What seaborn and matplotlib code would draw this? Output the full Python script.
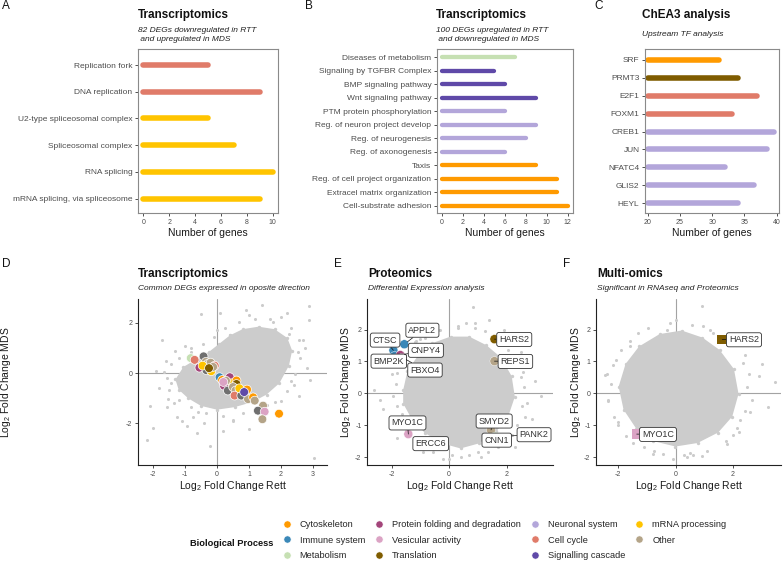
import numpy as np
import pandas as pd
import matplotlib
matplotlib.use("Agg")
import matplotlib.pyplot as plt
from matplotlib.lines import Line2D
import seaborn as sns

sns.set_theme(style="ticks")
plt.rcParams["font.family"] = ["Liberation Sans", "DejaVu Sans"]
plt.rcParams["mathtext.fontset"] = "custom"
plt.rcParams["mathtext.rm"] = "Liberation Sans"
plt.rcParams["axes.unicode_minus"] = False

# colours of the biological processes
PALETTE = {
    "Cytoskeleton": "#FF9A00",
    "Immune system": "#3B88B8",
    "Metabolism": "#C6E0B3",
    "Protein folding and degradation": "#A3457A",
    "Vesicular activity": "#DBA3C4",
    "Translation": "#7F5C00",
    "Neuronal system": "#B3A6DA",
    "Cell cycle": "#E07B69",
    "Signalling cascade": "#5F49A8",
    "mRNA processing": "#FFC400",
    "Other": "#B4A488",
    "Unassigned": "#6F6F6F",
}
GREY = "#CCCCCC"

# ---- panel A
a_terms = ["Replication fork", "DNA replication", "U2-type spliceosomal complex",
           "Spliceosomal complex", "RNA splicing", "mRNA splicing, via spliceosome"]
a_genes = [5, 9, 5, 7, 10, 9]
a_process = ["Cell cycle", "Cell cycle", "mRNA processing", "mRNA processing",
             "mRNA processing", "mRNA processing"]

# ---- panel B
b_terms = ["Diseases of metabolism", "Signaling by TGFBR Complex", "BMP signaling pathway",
           "Wnt signaling pathway", "PTM protein phosphorylation", "Reg. of neuron project develop",
           "Reg. of neurogenesis", "Reg. of axonogenesis", "Taxis",
           "Reg. of cell project organization", "Extracel matrix organization",
           "Cell-substrate adhesion"]
b_genes = [7, 5, 6, 9, 6, 9, 8, 6, 9, 11, 11, 12]
b_process = ["Metabolism", "Signalling cascade", "Signalling cascade", "Signalling cascade",
             "Neuronal system", "Neuronal system", "Neuronal system", "Neuronal system",
             "Cytoskeleton", "Cytoskeleton", "Cytoskeleton", "Cytoskeleton"]

# ---- panel C
c_tfs = ["SRF", "PRMT3", "E2F1", "FOXM1", "CREB1", "JUN", "NFATC4", "GLIS2", "HEYL"]
c_genes = [31, 34, 37, 33, 39.5, 38.5, 32, 36.5, 34]
c_process = ["Cytoskeleton", "Translation", "Cell cycle", "Cell cycle", "Neuronal system",
             "Neuronal system", "Neuronal system", "Neuronal system", "Neuronal system"]

# ---- panel D (log2FC Rett vs MDS); dense cloud outline + scattered genes
d_core_x = [-1.3, -1.05, -0.65, -0.25, 0.05, 0.4, 0.8, 1.3, 1.8, 2.2, 2.35, 2.25, 1.95,
            1.55, 1.1, 0.55, 0.0, -0.5, -0.9, -1.2]
d_core_y = [-0.25, 0.25, 0.55, 0.85, 1.15, 1.5, 1.75, 1.85, 1.75, 1.4, 0.9, 0.3, -0.4,
            -0.85, -1.15, -1.35, -1.45, -1.3, -1.0, -0.65]
d_bg_x = [-1.55, -1.45, -1.2, -0.8, -0.45, -0.1, 0.25, 0.7, 1.2, 1.75, 2.3, 2.55, 2.6, 2.45,
          2.2, 1.8, 1.35, 0.8, 0.2, -0.35, -0.8, -1.2, -1.5, -1.65, 0.0, 1.0, 2.0, 2.75, 2.4,
          1.55, 0.5, -0.6, -1.35, -1.0,
          -0.5, -1.71, -1.99, -2.2, -1.52, -1.26, -0.95, -0.63, -0.22, 2.88, 2.88, 2.26,
          1.66, 2.54, 1.99, 2.91, 2.57, 3.03, -1.6, -1.45, -1.8, -1.1, -0.4, 0.2, 0.5, -0.8,
          -1.3, 0.1, 0.9, 1.4, 2.2, 2.7, 2.8, 2.3, 2.0, 1.0, -1.9, -2.1, 0.4, -1.55, -0.75]
d_bg_y = [-0.2, 0.35, 0.6, 0.85, 1.15, 1.45, 1.8, 2.05, 2.15, 2.05, 1.8, 1.3, 0.6, -0.05,
          -0.7, -1.15, -1.4, -1.6, -1.7, -1.6, -1.35, -1.05, -0.65, 0.05, 1.7, 2.3, 2.25, 1.0,
          -0.45, -1.25, -1.85, -1.55, -1.2, 1.1,
          2.34, 1.31, -2.16, -2.66, -1.02, -1.76, -2.09, -2.36, -2.89, 2.67, 2.13, 1.57,
          2.17, 0.84, 0.57, -0.29, -0.89, -3.36, 0.5, -0.4, -0.6, -1.9, -2.0, -2.3, -1.9, 1.0,
          0.9, 2.4, 2.5, 2.7, 2.4, 1.3, 0.2, -0.3, -1.1, -2.2, 0.1, -1.3, 1.5, -1.35, -1.75]
d_hl_x = [-0.82, -0.70, -0.42, -0.55, -0.35, -0.28, -0.20, -0.33, -0.18, -0.07, -0.12, -0.45,
          -0.25, 0.08, 0.16, 0.34, 0.40, 0.31, 0.45, 0.61, 0.61, 0.22, 0.34, 0.50, 0.58, 0.55,
          0.94, 0.76, 0.97, 1.13, 1.18, 1.44, 1.28, 1.49, 1.42, 1.94, 0.28, 0.20, 0.70, 0.85]
d_hl_y = [0.60, 0.53, 0.67, 0.22, 0.45, 0.38, 0.42, 0.12, 0.08, 0.30, 0.25, 0.30, 0.20,
          -0.16, -0.27, -0.27, -0.16, -0.43, -0.40, -0.29, -0.43, -0.50, -0.69, -0.55, -0.69,
          -0.89, -0.65, -0.89, -1.03, -0.96, -1.09, -1.29, -1.49, -1.53, -1.83, -1.61, -0.30,
          -0.35, -0.60, -0.75]
d_hl_process = ["Metabolism", "Cell cycle", "Unassigned", "Protein folding and degradation",
                "Other", "Other", "Other", "Unassigned", "mRNA processing", "Cell cycle", "Other",
                "mRNA processing", "Translation", "Immune system", "Cytoskeleton",
                "Vesicular activity", "Protein folding and degradation", "Other",
                "mRNA processing", "Cytoskeleton", "Translation", "Protein folding and degradation",
                "Unassigned", "Other", "Other", "Cell cycle", "Cytoskeleton", "Unassigned", "Other",
                "Cytoskeleton", "Other", "Other", "Unassigned", "Vesicular activity", "Other",
                "Cytoskeleton", "Other", "Vesicular activity", "mRNA processing",
                "Signalling cascade"]

# ---- panel E (proteomics)
e_core_x = [-1.6, -1.45, -1.08, -0.6, 0.05, 0.7, 1.3, 1.8, 2.18, 2.29, 2.07, 1.65, 1.05, 0.4,
            -0.25, -0.85, -1.33, -1.6]
e_core_y = [0.1, 0.7, 1.19, 1.57, 1.78, 1.78, 1.51, 1.13, 0.54, -0.11, -0.7, -1.19, -1.57,
            -1.73, -1.57, -1.24, -0.76, -0.32]
e_bg_x = [-1.85, -1.7, -1.8, -1.6, -1.3, -0.85, -0.3, 0.3, 0.9, 1.55, 2.05, 2.45, 2.6, 2.55,
          2.35, 1.95, 1.35, 0.7, 0.1, -0.55, -1.05, -1.5, -1.95, -1.15, 2.3, 2.65, 1.7, -0.2,
          -1.8, 0.6, 1.25, 2.5, -1.4, -0.8, 0.4, 1.0, 2.0, -0.55, -1.65, 2.2,
          0.85, 2.59, -2.6, -2.3, -2.0, -1.9, 2.7, 3.0, 2.9, 2.5, 2.8, 0.3, -0.4, 1.1, -1.2,
          0.9, 3.2, -2.4, -1.8, 2.3, 0.0, -0.9, 1.9, -1.0, 1.4]
e_bg_y = [0.3, 0.9, -0.4, -0.9, 1.45, 1.75, 2.0, 2.05, 2.05, 1.8, 1.35, 0.85, 0.2, -0.4,
          -1.0, -1.5, -1.85, -1.95, -1.95, -1.85, -1.5, -1.15, -0.1, 1.65, 1.1, -0.75, -1.7,
          -2.05, 0.65, 2.2, 1.95, 0.5, -1.35, -1.65, -2.0, -1.85, 1.6, 1.95, -0.65, -1.3,
          2.71, 0.66, 0.1, -0.5, 0.6, -1.0, -0.3, 0.4, -0.8, 1.3, 1.0, 2.1, 2.0, -2.0, 1.6,
          2.2, -0.1, -0.2, -1.4, -1.7, -2.05, -1.85, 2.0, 1.7, 2.3]
e_hl_gene = ["CTSC", "BMP2K", "APPL2", "CNPY4", "FBXO4", "HARS2", "REPS1", "MYO1C", "SMYD2",
             "PANK2", "CNN1"]
e_hl_x = [-1.94, -1.90, -1.56, -1.70, -1.62, 1.58, 1.58, -1.42, 1.46, 1.60, 1.49]
e_hl_y = [1.35, 1.17, 1.54, 1.20, 1.12, 1.70, 1.01, -1.28, -1.15, -1.36, -1.41]
e_hl_process = ["Immune system", "Immune system", "Immune system",
                "Protein folding and degradation", "Protein folding and degradation",
                "Translation", "Other", "Vesicular activity", "Other", "Metabolism",
                "Cytoskeleton"]
e_lab_x = [-2.23, -2.10, -0.93, -0.81, -0.84, 2.27, 2.31, -1.45, 1.57, 2.96, 1.66]
e_lab_y = [1.67, 1.01, 1.98, 1.35, 0.73, 1.69, 1.00, -0.93, -0.87, -1.30, -1.47]
e_extra_label = ("ERCC6", -0.64, -1.58)

# ---- panel F (multi-omics)
f_core_x = [-1.99, -1.75, -1.28, -0.56, 0.21, 0.93, 1.53, 2.03, 2.19, 1.97, 1.48, 0.76,
            -0.01, -0.78, -1.37, -1.82]
f_core_y = [0.21, 0.92, 1.47, 1.86, 1.97, 1.75, 1.36, 0.76, -0.02, -0.73, -1.23, -1.56,
            -1.67, -1.5, -1.12, -0.51]
f_bg_x = [-2.25, -2.1, -1.6, -0.95, -0.2, 0.55, 1.3, 1.9, 2.35, 2.5, 2.4, 2.15, 1.75, 1.1,
          0.3, -0.45, -1.1, -1.75, -2.15, -2.35, -1.9, 0.0, 1.6, 2.55, 2.25, 0.6, -0.75, -2.0,
          -2.4, 0.95, -1.3, 2.0, -0.1, 2.65, -1.5,
          0.9, -2.46, -2.35, 3.0, 3.46, 3.23, 0.5, 0.9, -0.78, 2.6, 2.9, -2.2, -2.0, 1.2,
          -0.3, 0.4, 2.4, 1.8, -1.6, 2.2]
f_bg_y = [0.3, 1.05, 1.65, 2.05, 2.2, 2.15, 1.9, 1.55, 0.95, 0.2, -0.55, -1.1, -1.5, -1.8,
          -1.95, -1.9, -1.7, -1.35, -0.75, -0.2, 1.35, 2.3, 1.75, 0.6, -0.85, -1.95, -1.8,
          -1.0, 0.6, 2.1, 1.9, -1.3, -2.05, -0.2, -1.55,
          2.73, 0.56, -0.23, 0.93, 0.35, -0.44, -1.86, -1.97, -1.91, -0.6, 0.55, 0.9, -0.9,
          2.0, 2.0, -2.0, 1.2, -1.6, 1.5, -1.2]
f_hl_gene = ["HARS2", "MYO1C"]
f_hl_x = [1.62, -1.36]
f_hl_y = [1.69, -1.28]
f_hl_process = ["Translation", "Vesicular activity"]
f_lab_x = [2.38, -0.62]
f_lab_y = [1.68, -1.29]

legend_order = ["Cytoskeleton", "Immune system", "Metabolism",
                "Protein folding and degradation", "Vesicular activity", "Translation",
                "Neuronal system", "Cell cycle", "Signalling cascade",
                "mRNA processing", "Other"]

W, H = 784, 565
fig = plt.figure(figsize=(W / 100, H / 100), dpi=100)


def px_axes(x0, y0, x1, y1):
    return fig.add_axes([x0 / W, 1 - y1 / H, (x1 - x0) / W, (y1 - y0) / H])


def fig_text(x, y, s, **kw):
    fig.text(x / W, 1 - y / H, s, **kw)


def bar_panel(ax, terms, values, procs, base, lw, xlim, xticks):
    ypos = np.arange(len(terms))
    ax.hlines(ypos, base, values, colors=[PALETTE[p] for p in procs],
              linewidth=lw, capstyle="round")
    ax.set_yticks(ypos, terms)
    ax.set_ylim(len(terms) - 0.46, -0.6)
    ax.set_xlim(*xlim)
    ax.set_xticks(xticks)
    for sp in ax.spines.values():
        sp.set_visible(True)
        sp.set_color("#8a8a8a")
        sp.set_linewidth(0.8)
    ax.tick_params(axis="y", labelsize=6, labelcolor="#4d4d4d", color="#333333",
                   length=2.5, width=0.6, pad=1.5)
    ax.tick_params(axis="x", labelsize=5, labelcolor="#4d4d4d", color="#333333",
                   length=2.5, width=0.6, pad=1.5)
    ax.set_xlabel("Number of genes", fontsize=7.5, color="#1a1a1a")
    ax.xaxis.set_label_coords(0.5, -0.09)


def scatter_panel(ax, core_x, core_y, bg_x, bg_y, xlim, ylim, xticks, yticks, ylab_x):
    ax.axhline(0, color="#a3a3a3", lw=0.8, zorder=0)
    ax.axvline(0, color="#a3a3a3", lw=0.8, zorder=0)
    ax.fill(core_x, core_y, color=GREY, lw=0, zorder=1)
    sns.scatterplot(x=core_x, y=core_y, color=GREY, s=6, linewidth=0, ax=ax, zorder=1)
    sns.scatterplot(x=bg_x, y=bg_y, color=GREY, s=5, linewidth=0, ax=ax, zorder=1)
    ax.set_xlim(*xlim)
    ax.set_ylim(*ylim)
    ax.set_xticks(xticks)
    ax.set_yticks(yticks)
    sns.despine(ax=ax)
    for sp in ("left", "bottom"):
        ax.spines[sp].set_color("#222222")
        ax.spines[sp].set_linewidth(0.8)
    ax.tick_params(labelsize=5, labelcolor="#4d4d4d", color="#333333",
                   length=2.5, width=0.6, pad=1.5)
    ax.set_xlabel("Log$_2$ Fold Change Rett", fontsize=7.5, color="#1a1a1a")
    ax.xaxis.set_label_coords(0.5, -0.085)
    ax.set_ylabel("Log$_2$ Fold Change MDS", fontsize=7.5, color="#1a1a1a")
    ax.yaxis.set_label_coords(ylab_x, 0.5)


box = dict(boxstyle="round,pad=0.28,rounding_size=0.25", fc="white", ec="#333333", lw=0.6)


def add_labels(ax, genes, px, py, lx, ly):
    for g, x, y, tx, ty in zip(genes, px, py, lx, ly):
        ax.annotate(g, xy=(x, y), xytext=(tx, ty), fontsize=6.5, color="#333333",
                    ha="center", va="center", bbox=box, annotation_clip=False, zorder=5,
                    arrowprops=dict(arrowstyle="-", color="#111111", lw=0.5,
                                    shrinkA=0, shrinkB=3))


# ---------------- A
axA = px_axes(138, 49, 278, 213)
bar_panel(axA, a_terms, a_genes, a_process, 0, 4.0, (-0.41, 10.4), [0, 2, 4, 6, 8, 10])
# ---------------- B
axB = px_axes(437, 49, 573, 213)
bar_panel(axB, b_terms, b_genes, b_process, 0, 3.1, (-0.45, 12.5), [0, 2, 4, 6, 8, 10, 12])
# ---------------- C
axC = px_axes(645, 49, 779, 213)
bar_panel(axC, c_tfs, c_genes, c_process, 20, 4.0, (19.6, 40.35), [20, 25, 30, 35, 40])

# ---------------- D
axD = px_axes(138, 299, 327, 465)
scatter_panel(axD, d_core_x, d_core_y, d_bg_x, d_bg_y, (-2.47, 3.44), (-3.65, 2.95),
              [-2, -1, 0, 1, 2, 3], [-2, 0, 2], -0.66)
d_df = pd.DataFrame({"x": d_hl_x, "y": d_hl_y, "process": d_hl_process})
sns.scatterplot(data=d_df, x="x", y="y", hue="process", palette=PALETTE, s=40,
                edgecolor="white", linewidth=0.5, legend=False, ax=axD, zorder=3)
axD.set_xlabel("Log$_2$ Fold Change Rett", fontsize=7.5, color="#1a1a1a")
axD.set_ylabel("Log$_2$ Fold Change MDS", fontsize=7.5, color="#1a1a1a")

# ---------------- E
axE = px_axes(367, 299, 553, 465)
scatter_panel(axE, e_core_x, e_core_y, e_bg_x, e_bg_y, (-2.86, 3.62), (-2.25, 2.96),
              [-2, 0, 2], [-2, -1, 0, 1, 2], -0.075)
e_df = pd.DataFrame({"x": e_hl_x, "y": e_hl_y, "process": e_hl_process})
sns.scatterplot(data=e_df, x="x", y="y", hue="process", palette=PALETTE, s=42,
                edgecolor="white", linewidth=0.3, legend=False, ax=axE, zorder=3)
add_labels(axE, e_hl_gene, e_hl_x, e_hl_y, e_lab_x, e_lab_y)
axE.text(e_extra_label[1], e_extra_label[2], e_extra_label[0], fontsize=6.5, color="#333333",
         ha="center", va="center", bbox=box, zorder=5)
axE.set_xlabel("Log$_2$ Fold Change Rett", fontsize=7.5, color="#1a1a1a")
axE.set_ylabel("Log$_2$ Fold Change MDS", fontsize=7.5, color="#1a1a1a")

# ---------------- F
axF = px_axes(596, 299, 781, 465)
scatter_panel(axF, f_core_x, f_core_y, f_bg_x, f_bg_y, (-2.78, 3.67), (-2.25, 2.96),
              [-2, 0, 2], [-2, -1, 0, 1, 2], -0.07)
f_df = pd.DataFrame({"x": f_hl_x, "y": f_hl_y, "process": f_hl_process})
sns.scatterplot(data=f_df, x="x", y="y", hue="process", palette=PALETTE, s=46, marker="s",
                linewidth=0, legend=False, ax=axF, zorder=3)
add_labels(axF, f_hl_gene, f_hl_x, f_hl_y, f_lab_x, f_lab_y)
axF.set_xlabel("Log$_2$ Fold Change Rett", fontsize=7.5, color="#1a1a1a")
axF.set_ylabel("Log$_2$ Fold Change MDS", fontsize=7.5, color="#1a1a1a")

# ---------------- titles, letters
title_kw = dict(fontsize=8.5, fontweight="bold", color="#111111", va="center", ha="left")
sub_kw = dict(fontsize=6, style="italic", color="#222222", va="center", ha="left")
for letter, x, y in [("A", 6, 6), ("B", 309, 6), ("C", 599, 6),
                     ("D", 6, 264), ("E", 338, 264), ("F", 567, 264)]:
    fig_text(x, y, letter, fontsize=8.5, ha="center", va="center", color="#111111")

fig_text(138, 15, "Transcriptomics", **title_kw)
fig_text(138, 30, "82 DEGs downregulated in RTT", **sub_kw)
fig_text(138, 39.5, " and upregulated in MDS", **sub_kw)
fig_text(436, 15, "Transcriptomics", **title_kw)
fig_text(436, 30, "100 DEGs upregulated in RTT", **sub_kw)
fig_text(436, 39.5, " and downregulated in MDS", **sub_kw)
fig_text(642, 15, "ChEA3 analysis", **title_kw)
fig_text(642, 34, "Upstream TF analysis", **sub_kw)
fig_text(138, 274, "Transcriptomics", **title_kw)
fig_text(138, 289, "Common DEGs expressed in oposite direction", **sub_kw)
fig_text(368, 274, "Proteomics", **title_kw)
fig_text(368, 289, "Differential Expression analysis", **sub_kw)
fig_text(597, 274, "Multi-omics", **title_kw)
fig_text(597, 289, "Significant in RNAseq and Proteomics", **sub_kw)

# ---------------- legend
handles = [Line2D([], [], marker="o", ls="", markersize=5.2, markerfacecolor=PALETTE[p],
                  markeredgecolor="white", markeredgewidth=0.4) for p in legend_order]
fig.legend(handles, legend_order, ncol=4, loc="upper left",
           bbox_to_anchor=(282 / W, 1 - 520 / H), frameon=False, fontsize=6.7,
           handlelength=1.0, handletextpad=0.9, columnspacing=1.0, labelspacing=0.7,
           borderpad=0, borderaxespad=0)
fig_text(273, 543, "Biological Process", fontsize=6.7, fontweight="bold", ha="right",
         va="center", color="#111111")

fig.savefig("out.png", dpi=100)
